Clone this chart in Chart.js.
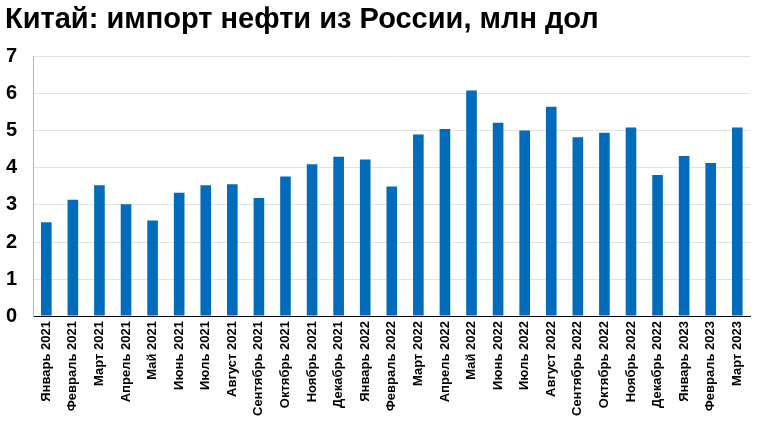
<!DOCTYPE html>
<html>
<head>
<meta charset="utf-8">
<script src="https://cdn.jsdelivr.net/npm/chart.js@4/dist/chart.umd.min.js"></script>
<style>
html,body{margin:0;padding:0;background:#fff;}
#wrap{position:relative;width:758px;height:424px;}
</style>
</head>
<body>
<div id="wrap"><canvas id="c" width="758" height="424"></canvas></div>
<script>
const categories = ["Январь 2021","Февраль 2021","Март 2021","Апрель 2021","Май 2021","Июнь 2021","Июль 2021","Август 2021","Сентябрь 2021","Октябрь 2021","Ноябрь 2021","Декабрь 2021","Январь 2022","Февраль 2022","Март 2022","Апрель 2022","Май 2022","Июнь 2022","Июль 2022","Август 2022","Сентябрь 2022","Октябрь 2022","Ноябрь 2022","Декабрь 2022","Январь 2023","Февраль 2023","Март 2023"];
const importValues = [2.53,3.14,3.53,3.02,2.58,3.33,3.53,3.56,3.19,3.77,4.10,4.30,4.23,3.50,4.90,5.05,6.09,5.22,5.01,5.65,4.83,4.95,5.09,3.81,4.32,4.13,5.09];
const yTicks = [0,1,2,3,4,5,6,7];
const titleText = "Китай: импорт нефти из России, млн дол";

new Chart(document.getElementById('c'), {
  type: 'bar',
  data: {
    labels: categories,
    datasets: [{
      data: importValues,
      backgroundColor: '#006CBB',
      borderWidth: 0,
      barPercentage: 0.4,
      categoryPercentage: 1.0
    }]
  },
  options: {
    responsive: false,
    animation: false,
    devicePixelRatio: 1,
    layout: { padding: { left: 5, right: 6, top: 0, bottom: 3 } },
    plugins: {
      legend: { display: false },
      tooltip: { enabled: false },
      title: {
        display: true,
        text: titleText,
        align: 'start',
        color: '#000',
        font: { family: 'Liberation Sans, Arial, sans-serif', size: 29, weight: 'bold' },
        padding: { top: 3, bottom: 19 }
      }
    },
    scales: {
      x: {
        grid: { display: false, drawTicks: false },
        border: { display: true, color: '#000', width: 1 },
        ticks: {
          autoSkip: false,
          maxRotation: 90,
          minRotation: 90,
          padding: 5,
          color: '#000',
          font: { family: 'Liberation Sans, Arial, sans-serif', size: 13, weight: 'bold' }
        }
      },
      y: {
        min: 0,
        max: 7,
        afterBuildTicks: (axis) => { axis.ticks = yTicks.map(v => ({ value: v })); },
        afterFit: (axis) => { axis.width = 28; },
        grid: { color: '#e3e3e3', drawTicks: false, lineWidth: 1 },
        border: { display: true, color: '#a9b8cc', width: 1 },
        ticks: {
          padding: 16,
          color: '#000',
          font: { family: 'Liberation Sans, Arial, sans-serif', size: 20, weight: 'bold' }
        }
      }
    }
  }
});
</script>
</body>
</html>
